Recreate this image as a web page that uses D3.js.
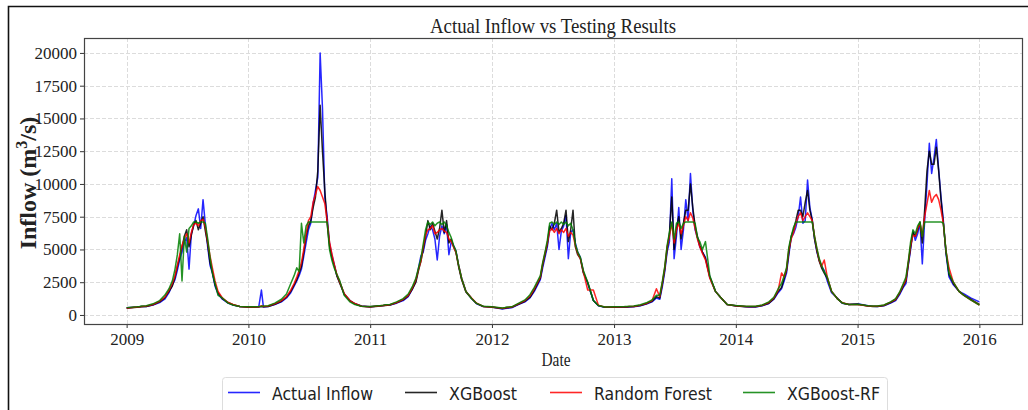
<!DOCTYPE html>
<html><head><meta charset="utf-8">
<script src="https://cdn.jsdelivr.net/npm/d3@7"></script>
<style>
html,body{margin:0;padding:0;background:#fff;}
svg{display:block;}
</style></head>
<body>
<svg id="chart" width="1028" height="410"></svg>
<script>
// ---------------- DATA ----------------
const years = [2009, 2010, 2011, 2012, 2013, 2014, 2015];
const sampleDays = [1, 32, 40, 46, 60, 80, 100, 115, 128, 138, 146, 153, 160, 167, 174, 181, 188, 195, 202, 209, 216, 223, 230, 237, 244, 251, 258, 266, 275, 288, 305, 320, 340];
const endDate = "2016-01-01";

const actualInflow = [
  550, 600, 620, 640, 650, 750, 950, 1200, 1700, 2300, 2700, 3400, 4200, 4800, 5600, 5900, 3500, 6200, 6800, 7600, 8100, 6600, 8800, 6900, 5200, 3800, 3200, 2200, 1600, 1200, 900, 750, 650,
  600, 620, 1900, 600, 650, 800, 1000, 1300, 1700, 2200, 2600, 3000, 3500, 4500, 5500, 6500, 7000, 8500, 9500, 10500, 20000, 15800, 9000, 7500, 5500, 4600, 3900, 3000, 2500, 1600, 1100, 850, 680,
  620, 700, 720, 740, 760, 900, 1100, 1400, 2000, 2600, 3600, 4500, 4800, 5700, 6200, 6800, 6500, 5800, 4200, 6000, 6800, 6200, 6900, 4600, 5600, 5300, 4900, 3800, 2800, 1800, 1250, 850, 650,
  600, 450, 500, 520, 550, 800, 1000, 1300, 1800, 2300, 2700, 3600, 4400, 5200, 6500, 7000, 6500, 7000, 5000, 6400, 6800, 7600, 4300, 6300, 6500, 5500, 4800, 4400, 3300, 2400, 1100, 700, 580,
  600, 580, 590, 600, 620, 700, 850, 1000, 1300, 1200, 2200, 3300, 4800, 5600, 10400, 4300, 6000, 8200, 5000, 6500, 8800, 7200, 10800, 8000, 6500, 5900, 5200, 4800, 4400, 2900, 1800, 1350, 800,
  700, 620, 610, 600, 600, 700, 880, 1200, 1700, 2000, 2600, 3200, 4600, 5900, 6200, 6700, 7500, 9000, 7000, 7200, 10300, 8200, 7300, 5800, 4800, 4200, 3700, 3400, 2600, 1700, 1300, 900, 800,
  850, 700, 680, 660, 640, 700, 900, 1100, 1600, 2100, 2400, 3800, 5000, 6400, 5700, 6200, 7000, 3900, 7200, 10000, 13100, 10800, 12000, 13400, 11100, 9000, 7200, 4700, 2900, 2300, 1800, 1600, 1300,
  1000
];
const xgboost = [
  520, 580, 600, 620, 650, 780, 1000, 1300, 1800, 2200, 2900, 3700, 4400, 5200, 6000, 6500, 5200, 6100, 6900, 7200, 6500, 7000, 7500, 6400, 5400, 4000, 3300, 2300, 1700, 1250, 950, 780, 640,
  580, 600, 640, 620, 650, 820, 1050, 1350, 1800, 2300, 2700, 3200, 3700, 4800, 6000, 6800, 7200, 8200, 9000, 11000, 16000, 12500, 9500, 7000, 5300, 4400, 3800, 3000, 2400, 1600, 1100, 860, 660,
  600, 680, 700, 730, 760, 920, 1150, 1450, 2000, 2500, 3400, 4100, 5000, 6000, 7200, 6500, 7000, 6400, 5800, 6600, 8000, 6300, 7200, 5500, 5800, 5200, 4800, 3700, 2700, 1750, 1250, 880, 640,
  580, 500, 520, 550, 580, 820, 1050, 1350, 1900, 2400, 2800, 3800, 4600, 5400, 6800, 6500, 7000, 8000, 6300, 6600, 7000, 8000, 5600, 6500, 8000, 5200, 4600, 4300, 3200, 2500, 1100, 720, 580,
  580, 600, 610, 620, 640, 720, 880, 1050, 1400, 1300, 2400, 3500, 5000, 6200, 9000, 5000, 6500, 7500, 5800, 7000, 8000, 8000, 10000, 8200, 6800, 6000, 5300, 4800, 4300, 2900, 1800, 1350, 800,
  680, 620, 620, 620, 620, 720, 900, 1250, 1800, 2100, 2800, 3400, 4800, 6000, 6500, 7200, 8000, 8000, 7500, 8600, 9500, 8000, 7200, 5800, 4900, 4100, 3600, 3200, 2800, 1800, 1250, 920, 800,
  820, 680, 660, 650, 640, 720, 950, 1150, 1700, 2200, 2600, 3900, 5200, 6300, 6000, 6500, 7100, 5500, 8000, 11000, 12500, 11500, 11500, 12800, 11000, 8800, 7000, 4800, 3100, 2400, 1800, 1500, 1200,
  800
];
const randomForest = [
  540, 600, 630, 650, 680, 800, 1050, 1350, 1900, 2400, 3000, 3800, 4600, 5300, 5800, 6200, 5500, 6300, 6900, 7000, 6800, 7200, 7300, 6700, 5600, 4500, 3600, 2600, 1800, 1300, 950, 800, 650,
  600, 620, 700, 640, 680, 850, 1100, 1400, 1900, 2400, 2900, 3400, 4000, 5000, 6200, 7200, 7500, 8600, 9200, 9800, 9500, 9000, 8500, 7200, 5600, 4700, 3900, 3100, 2500, 1650, 1100, 870, 670,
  620, 700, 730, 750, 780, 950, 1200, 1500, 2100, 2700, 3500, 4100, 5200, 6100, 6500, 6600, 6800, 6200, 6300, 6500, 6600, 6400, 6300, 5800, 5600, 5200, 4800, 3800, 2800, 1800, 1300, 900, 650,
  600, 520, 540, 570, 600, 850, 1100, 1450, 2000, 2500, 2900, 3900, 4700, 5500, 6400, 6600, 6300, 6600, 6200, 6500, 6300, 6600, 6000, 6300, 6100, 5300, 4700, 4300, 3300, 1900, 1900, 750, 600,
  600, 620, 630, 640, 650, 750, 900, 1100, 2000, 1400, 2500, 3600, 5200, 6000, 7000, 5500, 6500, 7000, 6200, 6800, 7500, 7200, 7800, 7400, 6600, 5800, 5200, 4700, 4200, 2800, 1800, 1350, 800,
  700, 640, 640, 640, 640, 740, 950, 1300, 1900, 3200, 2900, 3500, 5000, 5800, 6300, 7000, 7500, 7800, 7200, 7500, 7800, 7500, 7200, 6000, 5000, 4200, 3700, 4200, 2900, 1800, 1250, 930, 800,
  800, 680, 670, 660, 660, 740, 980, 1200, 1750, 2300, 2700, 4000, 5300, 6100, 6000, 6600, 7000, 6000, 7500, 8500, 9500, 8600, 9000, 9200, 8800, 8000, 7000, 4900, 3600, 2500, 1800, 1500, 1150,
  760
];
const xgboostRF = [
  560, 620, 650, 680, 700, 850, 1100, 1500, 2000, 2600, 3500, 4600, 6200, 2600, 6000, 4800, 6600, 6800, 7100, 7100, 7000, 7100, 7100, 7000, 5800, 4400, 3200, 2400, 1500, 1300, 900, 760, 640,
  620, 640, 660, 680, 700, 900, 1200, 1600, 2400, 3000, 3600, 3300, 7000, 5500, 6800, 7100, 7100, 7100, 7100, 7100, 7100, 7100, 7100, 7100, 5000, 4200, 3600, 3100, 2600, 1500, 1000, 800, 660,
  640, 720, 750, 780, 800, 1000, 1250, 1600, 2200, 2800, 3600, 4300, 5400, 6500, 7100, 6900, 7100, 6800, 7000, 7100, 6900, 7100, 6800, 6300, 5900, 5300, 4900, 3800, 2800, 1800, 1250, 880, 660,
  620, 540, 570, 600, 620, 880, 1150, 1550, 2100, 2600, 3000, 4000, 4800, 5700, 7000, 7100, 6900, 7100, 6900, 7100, 6900, 7100, 6800, 7000, 6500, 5400, 4800, 4400, 3400, 2500, 1100, 720, 600,
  620, 640, 650, 660, 680, 780, 950, 1150, 1500, 1500, 2600, 3700, 5300, 6300, 7100, 5800, 7000, 7100, 6600, 7000, 7100, 7100, 7100, 7100, 7000, 5900, 5600, 5000, 5600, 3000, 1800, 1350, 800,
  720, 660, 660, 660, 660, 760, 1000, 1350, 2000, 2400, 3000, 3600, 5200, 6000, 6700, 7100, 7100, 7100, 7100, 7100, 7100, 7100, 7100, 6000, 5100, 4300, 3800, 3300, 2900, 1800, 1250, 920, 800,
  820, 700, 690, 680, 680, 760, 1000, 1250, 1800, 2400, 2900, 4100, 5600, 6500, 6200, 6800, 7100, 6000, 7100, 7100, 7100, 7100, 7100, 7100, 7100, 7100, 7000, 4900, 3200, 2500, 1800, 1500, 1150,
  760
];

const seriesNames = ["Actual Inflow", "XGBoost", "Random Forest", "XGBoost-RF"];
const seriesColors = ["#0000ff", "#000000", "#ff0000", "#008000"];
const yTicks = [0, 2500, 5000, 7500, 10000, 12500, 15000, 17500, 20000];
const xTickYears = [2009, 2010, 2011, 2012, 2013, 2014, 2015, 2016];

// ---------------- BUILD ----------------
const dates = years.flatMap(y => sampleDays.map(d => new Date(y, 0, d)));
dates.push(new Date(endDate + "T00:00:00"));
const allSeries = [actualInflow, xgboost, randomForest, xgboostRF];

const svg = d3.select("#chart");
const M = {left: 84, right: 1022, top: 38, bottom: 324};

const t0 = dates[0].getTime(), t1 = dates[dates.length - 1].getTime();
const pad = (t1 - t0) * 0.05;
const x = d3.scaleTime().domain([new Date(t0 - pad), new Date(t1 + pad)]).range([M.left, M.right]);
const y = d3.scaleLinear().domain([-690, 21140]).range([M.bottom, M.top]);

// outer frame (left/top edges of the figure border)
svg.append("path").attr("d", "M8.5,410 L8.5,6.5 L1028,6.5")
  .attr("fill", "none").attr("stroke", "#111").attr("stroke-width", 1.6);

// grid
const grid = svg.append("g");
grid.selectAll("line.gy").data(yTicks).join("line")
  .attr("x1", M.left).attr("x2", M.right)
  .attr("y1", d => Math.round(y(d)) + 0.5).attr("y2", d => Math.round(y(d)) + 0.5)
  .attr("stroke", "#dcdcdc").attr("stroke-width", 1).attr("stroke-dasharray", "4,2");
grid.selectAll("line.gx").data(xTickYears).join("line")
  .attr("y1", M.top).attr("y2", M.bottom)
  .attr("x1", d => Math.round(x(new Date(d, 0, 1))) + 0.5).attr("x2", d => Math.round(x(new Date(d, 0, 1))) + 0.5)
  .attr("stroke", "#dcdcdc").attr("stroke-width", 1).attr("stroke-dasharray", "4,2");

// series
const line = d3.line().x((d, i) => x(dates[i])).y(d => y(d));
const g = svg.append("g");
allSeries.forEach((s, k) => {
  g.append("path").datum(s).attr("d", line)
    .attr("fill", "none").attr("stroke", seriesColors[k])
    .attr("stroke-width", 1.5).attr("stroke-opacity", 0.85)
    .attr("stroke-linejoin", "round");
});

// axes
const serif = "'Liberation Serif','Times New Roman',serif";
const yAxis = svg.append("g").attr("transform", `translate(${M.left},0)`)
  .call(d3.axisLeft(y).tickValues(yTicks).tickFormat(d3.format("d")).tickSize(4).tickPadding(3));
const xAxis = svg.append("g").attr("transform", `translate(0,${M.bottom})`)
  .call(d3.axisBottom(x).tickValues(xTickYears.map(yy => new Date(yy, 0, 1))).tickFormat(d3.timeFormat("%Y")).tickSize(4).tickPadding(5));
[yAxis, xAxis].forEach(a => {
  a.select(".domain").remove();
  a.selectAll(".tick line").attr("stroke", "#333");
  a.selectAll(".tick text").attr("font-family", serif).attr("font-size", 17).attr("fill", "#222");
});

// plot frame
svg.append("rect").attr("x", M.left + 0.5).attr("y", M.top + 0.5)
  .attr("width", M.right - M.left).attr("height", M.bottom - M.top)
  .attr("fill", "none").attr("stroke", "#444").attr("stroke-width", 1.2);

// title and labels
svg.append("text").attr("x", (M.left + M.right) / 2).attr("y", 33)
  .attr("text-anchor", "middle").attr("font-family", serif).attr("font-size", 22).attr("fill", "#222")
  .attr("textLength", 246).attr("lengthAdjust", "spacingAndGlyphs")
  .text("Actual Inflow vs Testing Results");
svg.append("text").attr("x", (M.left + M.right) / 2 + 3).attr("y", 366)
  .attr("text-anchor", "middle").attr("font-family", serif).attr("font-size", 18).attr("fill", "#222")
  .attr("textLength", 29).attr("lengthAdjust", "spacingAndGlyphs")
  .text("Date");
const yl = svg.append("text").attr("transform", `translate(36,${(M.top + M.bottom) / 2 + 2}) rotate(-90)`)
  .attr("text-anchor", "middle").attr("font-family", serif).attr("font-size", 24)
  .attr("font-weight", "bold").attr("fill", "#222");
yl.append("tspan").text("Inflow (m");
yl.append("tspan").attr("font-size", 16).attr("dy", -9).text("3");
yl.append("tspan").attr("dy", 9).text("/s)");

// legend
const legX = [228, 405, 550, 743];
const legW = [101, 68, 118, 93];
const lg = svg.append("g");
lg.append("rect").attr("x", 222.5).attr("y", 377.5).attr("width", 665).attr("height", 40)
  .attr("rx", 3).attr("fill", "#fff").attr("stroke", "#ddd");
seriesNames.forEach((n, k) => {
  lg.append("line").attr("x1", legX[k]).attr("x2", legX[k] + 32).attr("y1", 392.5).attr("y2", 392.5)
    .attr("stroke", seriesColors[k]).attr("stroke-width", 1.6).attr("stroke-opacity", 0.85);
  lg.append("text").attr("x", legX[k] + 44).attr("y", 400)
    .attr("font-family", "'DejaVu Sans',sans-serif").attr("font-size", 18).attr("fill", "#222")
    .attr("textLength", legW[k]).attr("lengthAdjust", "spacingAndGlyphs")
    .text(n);
});
</script>
</body></html>
